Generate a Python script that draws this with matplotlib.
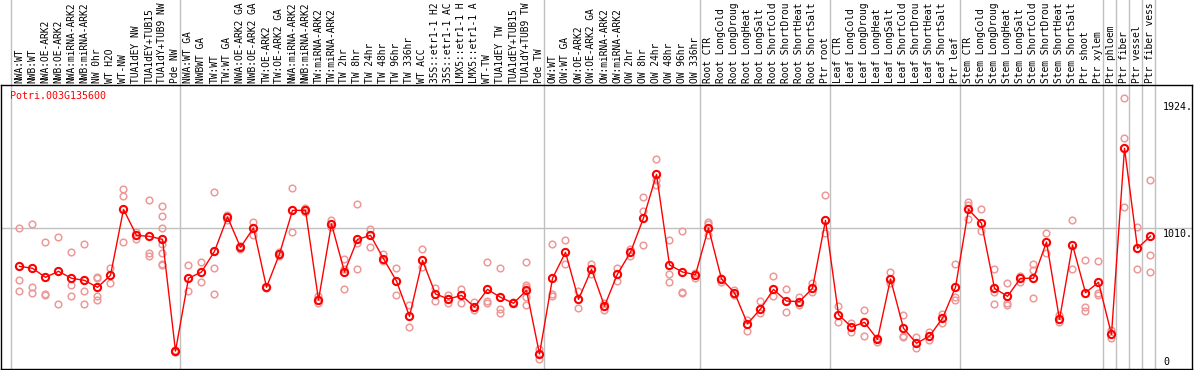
import matplotlib
matplotlib.use("Agg")
import matplotlib.pyplot as plt
import matplotlib.transforms as mtransforms

gene = "Potri.003G135600"

labels = [
    "NWA:WT", "NWB:WT", "NWA:OE-ARK2", "NWB:OE-ARK2", "NWA:miRNA-ARK2", "NWB:miRNA-ARK2",
    "NW 0hr", "WT H2O", "WT-NW", "TUA1dEY NW", "TUA1dEY+TUB15", "TUA1dY+TUB9 NW", "Pde NW",
    "NWA:WT GA", "NWBWT GA", "TW:WT", "TW:WT GA", "NWA:OE-ARK2 GA", "NWB:OE-ARK2 GA",
    "TW:OE-ARK2", "TW:OE-ARK2 GA", "NWA:miRNA-ARK2", "NWB:miRNA-ARK2", "TW:miRNA-ARK2",
    "TW:miRNA-ARK2", "TW 2hr", "TW 8hr", "TW 24hr", "TW 48hr", "TW 96hr", "TW 336hr",
    "WT ACC", "35S::etr1-1 H2", "35S::etr1-1 AC", "LMX5::etr1-1 H", "LMX5::etr1-1 A",
    "WT-TW", "TUA1dEY TW", "TUA1dEY+TUB15", "TUA1dY+TUB9 TW", "Pde TW",
    "OW:WT", "OW:WT GA", "OW:OE-ARK2", "OW:OE-ARK2 GA", "OW:miRNA-ARK2", "OW:miRNA-ARK2",
    "OW 2hr", "OW 8hr", "OW 24hr", "OW 48hr", "OW 96hr", "OW 336hr",
    "Root CTR", "Root LongCold", "Root LongDroug", "Root LongHeat", "Root LongSalt",
    "Root ShortCold", "Root ShortDrou", "Root ShortHeat", "Root ShortSalt", "Ptr root",
    "Leaf CTR", "Leaf LongCold", "Leaf LongDroug", "Leaf LongHeat", "Leaf LongSalt",
    "Leaf ShortCold", "Leaf ShortDrou", "Leaf ShortHeat", "Leaf ShortSalt", "Ptr leaf",
    "Stem CTR", "Stem LongCold", "Stem LongDroug", "Stem LongHeat", "Stem LongSalt",
    "Stem ShortCold", "Stem ShortDrou", "Stem ShortHeat", "Stem ShortSalt", "Ptr shoot",
    "Ptr xylem", "Ptr phloem", "Ptr fiber", "Ptr vessel", "Ptr fiber vess",
]

# mean expression per sample
means = [
    732, 718, 653, 696, 646, 631, 581, 667, 1142, 955, 948, 926, 122,
    646, 691, 840, 1087, 869, 1008, 581, 821, 1135, 1135, 490, 1037, 691, 926, 955,
    787, 626, 372, 775, 533, 497, 523, 439, 566, 509, 466, 559, 101,
    646, 833, 494, 710, 446, 677, 833, 1080, 1394, 742, 691, 672,
    1008, 641, 542, 319, 425, 566, 482, 478, 574, 1063,
    384, 295, 329, 206, 641, 286, 178, 230, 358, 581,
    1142, 1042, 574, 516, 646, 646, 907, 350, 886, 542, 617,
    242, 1582, 862, 950,
]

# individual replicates per sample
reps = [
    [1006, 631, 552], [1034, 583, 538], [905, 533, 526], [943, 461], [833, 595, 516],
    [893, 552, 461], [658, 646, 521, 490], [722, 614], [1289, 1241, 905], [982, 931],
    [1207, 828, 804], [1166, 1092, 1006, 893, 826, 751, 744], [130, 115],
    [739, 554], [761, 617], [1265, 718, 533], [1102, 1066], [857, 878], [1051, 960],
    [586, 574], [804, 833], [1296, 977], [1150, 1123], [521, 466], [1068, 1018],
    [782, 713, 566], [1178, 898, 710], [1001, 869], [821, 768], [718, 523],
    [454, 293], [857, 730], [576, 480], [526, 466], [571, 466], [473, 415],
    [761, 480, 466], [718, 425, 398], [473], [761, 598, 586, 509, 454], [137, 62],
    [893, 533, 521], [919, 749], [554, 430], [749, 677], [466, 418], [718, 624],
    [859, 806], [1229, 1130, 886], [1502, 1354, 1318], [919, 677, 617], [986, 547, 538],
    [686, 650],
    [1051, 1037, 955], [650, 617], [564, 526], [346, 264], [480, 398], [660, 521],
    [566, 403], [509, 454], [610, 545], [1243, 974],
    [444, 329], [326, 257], [418, 233], [214, 190], [689, 610], [379, 233, 226],
    [221, 146], [257, 202], [389, 322], [749, 509, 492],
    [1195, 1174, 1070], [1145, 989], [710, 547, 458], [610, 466, 451], [665, 617],
    [746, 706, 502], [970, 826], [379, 334], [1063, 710], [775, 437, 413],
    [768, 538, 526],
    [274, 216], [1942, 1654, 1157], [1013, 710], [1351, 811, 689],
]

group_starts = [0, 13, 41, 53, 63, 73, 84, 85, 86, 87, 88]
ytick_vals = [1924, 1010]

W, H = 1194, 370
fig = plt.figure(figsize=(W / 100, H / 100), dpi=100)
ax = fig.add_axes([1 / W, 1 / H, 1191 / W, 284 / H])

x = list(range(len(labels)))
ax.set_xlim(-1.423, -1.423 + 1191 / 13)
ax.set_ylim(-7.2, 2037.6)
ax.set_xticks([])
ax.set_yticks([])
for s in ax.spines.values():
    s.set_color("black")
    s.set_linewidth(1)

grey = "#c0c0c0"
ax.axhline(1010, color=grey, lw=1, zorder=1)
for b in group_starts:
    ax.axvline(b - 0.65, ymin=0, ymax=1.31, color=grey, lw=1, clip_on=False, zorder=1)

# replicates
for i, r in enumerate(reps):
    ax.plot([i] * len(r), r, linestyle="none", marker="o", ms=4.8, mfc="none",
            mec="#ee9999", mew=1.1, zorder=2)

# means
ax.plot(x, means, color="red", lw=1, zorder=3)
ax.plot(x, means, linestyle="none", marker="o", ms=5.2, mfc="none", mec="red",
        mew=1.5, zorder=4)

mono = "DejaVu Sans Mono"
trans = mtransforms.blended_transform_factory(ax.transData, ax.transAxes)
for i, lab in enumerate(labels):
    ax.text(i, 1.007, lab, transform=trans, rotation=90, ha="center", va="bottom",
            fontsize=6.9, family=mono, color="black", clip_on=False)

ax.text(0.0072, 0.96, gene, transform=ax.transAxes, ha="left", va="center",
        fontsize=7.2, family=mono, color="red")

for v in ytick_vals:
    ax.text(87.96, v - 12, f"{v}.", ha="left", va="top", fontsize=7.2, family=mono,
            color="black", clip_on=True)
ax.text(87.96, 41, "0", ha="left", va="center", fontsize=7.2, family=mono, color="black")

fig.savefig("out.png", dpi=100)
